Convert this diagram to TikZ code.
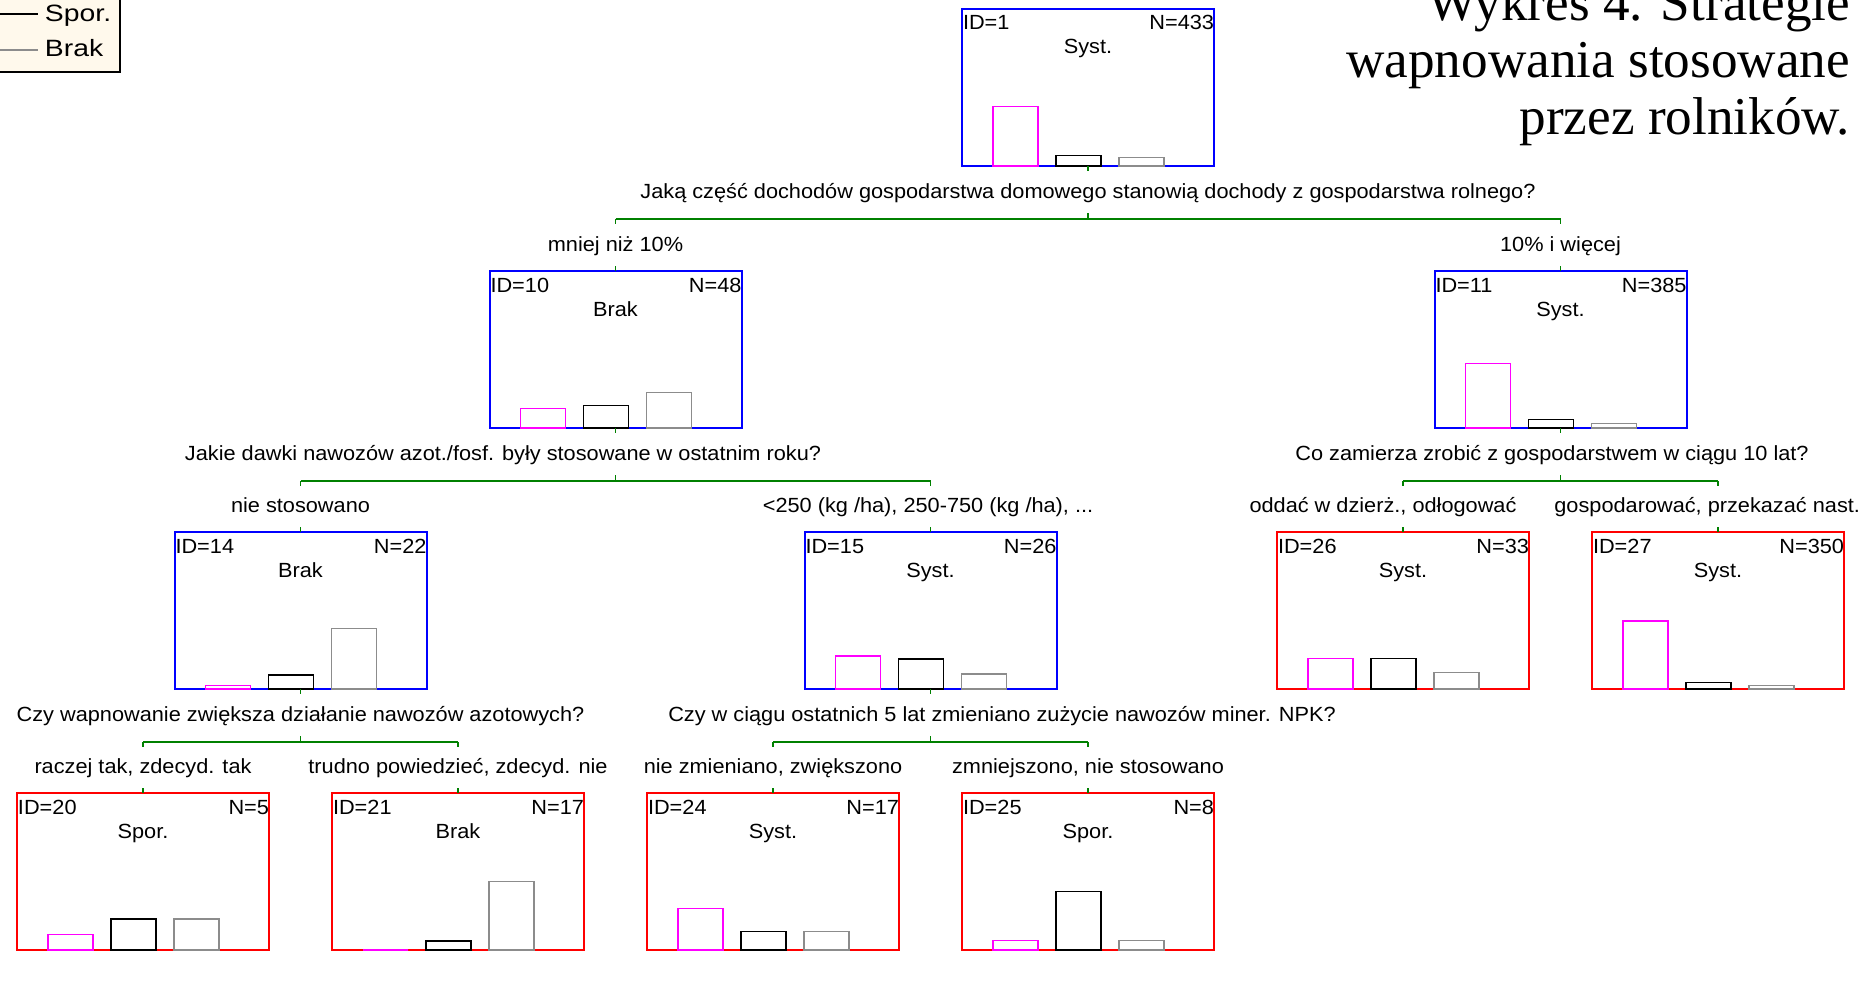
\documentclass[tikz,border=0pt]{standalone}
\usepackage{fontspec}
\setmainfont{Liberation Sans}
\newfontfamily\treefont[FakeStretch=1.06]{Liberation Sans}
\newfontfamily\legfont[FakeStretch=1.2]{Liberation Sans}
\newfontfamily\titlefont{Liberation Serif}
\usetikzlibrary{calc}
\definecolor{cBlue}{RGB}{0,0,255}
\definecolor{cRed}{RGB}{255,0,0}
\definecolor{cGreen}{RGB}{0,128,0}
\definecolor{cMag}{RGB}{255,0,255}
\definecolor{cGray}{RGB}{140,140,140}
\definecolor{cCream}{RGB}{255,249,236}
\tikzset{
  treebox/.style={draw=#1, line width=1pt, minimum width=126pt, minimum height=78.5pt, inner sep=0pt, outer sep=0pt},
  txt/.style={inner sep=0pt, outer sep=0pt},
  link/.style={draw=cGreen, line width=0.8pt},
  barS/.style={draw=cMag, line width=0.7pt},
  barP/.style={draw=black, line width=0.7pt},
  barB/.style={draw=cGray, line width=0.7pt},
  legbox/.style={draw=black, fill=cCream, line width=1.3pt, minimum width=80pt, minimum height=60pt, inner sep=0pt, outer sep=0pt},
  legtext/.style={inner sep=0pt, outer sep=0pt, font={\legfont\fontsize{11.8pt}{13pt}\selectfont}},
  titletext/.style={inner sep=0pt, outer sep=0pt, font={\titlefont\fontsize{26.6pt}{29pt}\selectfont}}
}
\newcommand\tbox[7]{%
  \node[treebox=#4] (#1) at (#2,#3) {};
  \node[txt, anchor=base west] (#1-id) at ($(#1.north west)+(1,21)$) {ID=#5};
  \node[txt, anchor=base east] (#1-n) at ($(#1.north east)+(0,21)$) {N=#6};
  \node[txt, anchor=base] (#1-c) at ($(#1.north)+(0,45)$) {#7};
}
\newcommand\tbars[4]{%
  \begin{scope}[shift={(#1.south west)}]
    \draw[barS] (31,0) rectangle (76,-#2);
    \draw[barP] (94,0) rectangle (139,-#3);
    \draw[barB] (157,0) rectangle (202,-#4);
  \end{scope}
}
\newcommand\tsplit[3]{%
  \draw[link] (#1.south) -- ++(0,5);
  \coordinate (#1-bar) at ($(#1.south)+(0,53)$);
  \draw[link] (#1-bar) -- ++(0,-6);
  \draw[link] (#1-bar -| #2.north) -- (#1-bar -| #3.north);
  \draw[link] (#1-bar -| #2.north) -- ++(0,5);
  \draw[link] (#1-bar -| #3.north) -- ++(0,5);
  \draw[link] (#2.north) -- ++(0,-5);
  \draw[link] (#3.north) -- ++(0,-5);
}
\begin{document}
\begin{tikzpicture}[x=0.5pt, y=-0.5pt, font={\treefont\fontsize{10.25pt}{12pt}\selectfont}]
\useasboundingbox (0,0) rectangle (1865,1001);
\clip (0,0) rectangle (1865,1001);
\fill[white] (0,0) rectangle (1865,1001);

% legend
\node[legbox, anchor=south east] (legend) at (120,72) {};
\draw[black, line width=0.6pt] (0,14) -- (38,14);
\draw[cGray, line width=0.6pt] (0,50) -- (38,50);
\node[legtext, anchor=base west] (legS) at (45,21) {Spor.};
\node[legtext, anchor=base west] (legB) at (45,56) {Brak};

% title
\node[titletext, anchor=base east] (title1) at (1850,20) {Wykres 4. Strategie};
\node[titletext, anchor=base east] (title2) at (1850,77) {wapnowania stosowane};
\node[titletext, anchor=base east] (title3) at (1850,134) {przez rolników.};

% boxes
\tbox{n1}{1088}{87.5}{cBlue}{1}{433}{Syst.}
\tbox{n10}{615.5}{349.5}{cBlue}{10}{48}{Brak}
\tbox{n11}{1560.5}{349.5}{cBlue}{11}{385}{Syst.}
\tbox{n14}{300.5}{610.5}{cBlue}{14}{22}{Brak}
\tbox{n15}{930.5}{610.5}{cBlue}{15}{26}{Syst.}
\tbox{n26}{1403}{610.5}{cRed}{26}{33}{Syst.}
\tbox{n27}{1718}{610.5}{cRed}{27}{350}{Syst.}
\tbox{n20}{143}{871.5}{cRed}{20}{5}{Spor.}
\tbox{n21}{458}{871.5}{cRed}{21}{17}{Brak}
\tbox{n24}{773}{871.5}{cRed}{24}{17}{Syst.}
\tbox{n25}{1088}{871.5}{cRed}{25}{8}{Spor.}

% bars
\tbars{n1}{59.4}{10.3}{8.3}
\tbars{n10}{19.5}{22.75}{35.75}
\tbars{n11}{64.4}{8.7}{4.6}
\tbars{n14}{3.5}{14.2}{60.3}
\tbars{n15}{33}{30}{15}
\tbars{n26}{30.5}{30.5}{16.5}
\tbars{n27}{68}{6.7}{3.3}
\tbars{n20}{15.6}{31.2}{31.2}
\tbars{n21}{0}{9.2}{68.8}
\tbars{n24}{41.3}{18.4}{18.4}
\tbars{n25}{9.75}{58.5}{9.75}

% connectors
\tsplit{n1}{n10}{n11}
\tsplit{n10}{n14}{n15}
\tsplit{n11}{n26}{n27}
\tsplit{n14}{n20}{n21}
\tsplit{n15}{n24}{n25}

% questions and branch labels
\node[txt, anchor=base] (q1) at (1088,198.5) {Jaką część dochodów gospodarstwa domowego stanowią dochody z gospodarstwa rolnego?};
\node[txt, anchor=base] (l10) at (615.5,251.5) {mniej niż 10\%};
\node[txt, anchor=base] (l11) at (1560.5,251.5) {10\% i więcej};

\node[txt, anchor=base] (q10) at (503,460.5) {Jakie dawki nawozów azot./fosf. były stosowane w ostatnim roku?};
\node[txt, anchor=base] (q11) at (1552,460.5) {Co zamierza zrobić z gospodarstwem w ciągu 10 lat?};
\node[txt, anchor=base] (l14) at (300.5,512.5) {nie stosowano};
\node[txt, anchor=base] (l15) at (928,512.5) {<250 (kg /ha), 250-750 (kg /ha), ...};
\node[txt, anchor=base] (l26) at (1383,512.5) {oddać w dzierż., odłogować};
\node[txt, anchor=base east] (l27) at (1860,512.5) {gospodarować, przekazać nast.};

\node[txt, anchor=base] (q14) at (300.5,721.5) {Czy wapnowanie zwiększa działanie nawozów azotowych?};
\node[txt, anchor=base] (q15) at (1002,721.5) {Czy w ciągu ostatnich 5 lat zmieniano zużycie nawozów miner. NPK?};
\node[txt, anchor=base] (l20) at (143,773.5) {raczej tak, zdecyd. tak};
\node[txt, anchor=base] (l21) at (458,773.5) {trudno powiedzieć, zdecyd. nie};
\node[txt, anchor=base] (l24) at (773,773.5) {nie zmieniano, zwiększono};
\node[txt, anchor=base] (l25) at (1088,773.5) {zmniejszono, nie stosowano};
\end{tikzpicture}
\end{document}
